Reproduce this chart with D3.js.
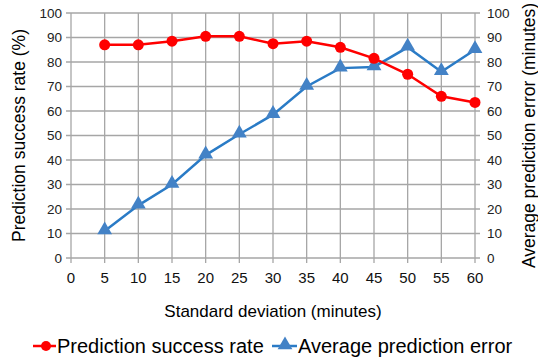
<!DOCTYPE html>
<html>
<head>
<meta charset="utf-8">
<script src="https://cdn.jsdelivr.net/npm/d3@7"></script>
<style>
  body { margin: 0; background: #fff; }
  text { font-family: "Liberation Sans", Arial, sans-serif; }
</style>
</head>
<body>
<div id="chart"></div>
<script>
// Data
const stdDev = [5, 10, 15, 20, 25, 30, 35, 40, 45, 50, 55, 60];
const successRate = [87, 87, 88.5, 90.5, 90.5, 87.5, 88.5, 86, 81.5, 75, 66, 63.5];
const avgError = [11, 21.5, 30, 42, 50.5, 58.5, 70, 77.5, 78, 86, 76, 85];
const xTicks = [0, 5, 10, 15, 20, 25, 30, 35, 40, 45, 50, 55, 60];
const yTicks = [0, 10, 20, 30, 40, 50, 60, 70, 80, 90, 100];

const width = 538, height = 360;
const margin = { top: 13, right: 63, bottom: 102, left: 71 };

const svg = d3.select("#chart").append("svg")
    .attr("width", width)
    .attr("height", height);

const x = d3.scaleLinear().domain([0, 60]).range([margin.left, width - margin.right]);
const yL = d3.scaleLinear().domain([0, 100]).range([height - margin.bottom, margin.top]);
const yR = d3.scaleLinear().domain([0, 100]).range([height - margin.bottom, margin.top]);

// Gridlines
svg.append("g").selectAll("line.h")
    .data(yTicks).join("line")
    .attr("x1", x(0) - 5).attr("x2", x(60) + 5)
    .attr("y1", d => yL(d)).attr("y2", d => yL(d))
    .attr("stroke", "#a6a6a6").attr("stroke-width", 1.3);

svg.append("g").selectAll("line.v")
    .data(xTicks).join("line")
    .attr("x1", d => x(d)).attr("x2", d => x(d))
    .attr("y1", yL(100)).attr("y2", yL(0) + 5)
    .attr("stroke", "#a6a6a6").attr("stroke-width", 1.3);

// Tick labels
const tickColor = "#222";
svg.append("g").selectAll("text")
    .data(yTicks).join("text")
    .attr("x", x(0) - 9).attr("y", d => yL(d))
    .attr("dy", "0.35em").attr("text-anchor", "end")
    .style("font-size", "13.5px").attr("fill", tickColor)
    .text(d => d);

svg.append("g").selectAll("text")
    .data(yTicks).join("text")
    .attr("x", x(60) + 12).attr("y", d => yR(d))
    .attr("dy", "0.35em").attr("text-anchor", "start")
    .style("font-size", "13.5px").attr("fill", tickColor)
    .text(d => d);

svg.append("g").selectAll("text")
    .data(xTicks).join("text")
    .attr("x", d => x(d)).attr("y", yL(0) + 25)
    .attr("text-anchor", "middle")
    .style("font-size", "15px").attr("fill", "#111")
    .text(d => d);

// Axis titles
svg.append("text")
    .attr("transform", `translate(25,${(yL(0) + yL(100)) / 2}) rotate(-90)`)
    .attr("text-anchor", "middle")
    .style("font-size", "17.5px").attr("fill", "#000")
    .text("Prediction success rate (%)");

svg.append("text")
    .attr("transform", `translate(535,${(yL(0) + yL(100)) / 2}) rotate(-90)`)
    .attr("text-anchor", "middle")
    .style("font-size", "17.5px").attr("fill", "#000")
    .text("Average prediction error (minutes)");

svg.append("text")
    .attr("x", (x(0) + x(60)) / 2).attr("y", 317)
    .attr("text-anchor", "middle")
    .style("font-size", "17px").attr("fill", "#000")
    .text("Standard deviation (minutes)");

// Series
const red = "#ff0000", blue = "#2a7bc6", blueMark = "#4382c6";
const tri = d3.symbol().type(d3.symbolTriangle).size(95);

const lineL = d3.line().x((d, i) => x(stdDev[i])).y(d => yL(d));
const lineR = d3.line().x((d, i) => x(stdDev[i])).y(d => yR(d));

svg.append("path").datum(avgError)
    .attr("d", lineR).attr("fill", "none")
    .attr("stroke", blue).attr("stroke-width", 2.5);
svg.append("g").selectAll("path")
    .data(avgError).join("path")
    .attr("d", tri)
    .attr("transform", (d, i) => `translate(${x(stdDev[i])},${yR(d) - 1})`)
    .attr("fill", blueMark);

svg.append("path").datum(successRate)
    .attr("d", lineL).attr("fill", "none")
    .attr("stroke", red).attr("stroke-width", 2.5);
svg.append("g").selectAll("circle")
    .data(successRate).join("circle")
    .attr("cx", (d, i) => x(stdDev[i])).attr("cy", d => yL(d))
    .attr("r", 5.5).attr("fill", red);

// Legend
const legY = 353;
const leg1 = svg.append("g");
leg1.append("line").attr("x1", 33).attr("x2", 56).attr("y1", legY - 7).attr("y2", legY - 7)
    .attr("stroke", red).attr("stroke-width", 2.5);
leg1.append("circle").attr("cx", 46).attr("cy", legY - 7).attr("r", 5).attr("fill", red);
leg1.append("text").attr("x", 57).attr("y", legY)
    .style("font-size", "20px").attr("fill", "#000")
    .text("Prediction success rate");

const leg2 = svg.append("g");
leg2.append("line").attr("x1", 272).attr("x2", 297).attr("y1", legY - 7).attr("y2", legY - 7)
    .attr("stroke", blue).attr("stroke-width", 2.5);
leg2.append("path").attr("d", tri).attr("transform", `translate(285,${legY - 8})`).attr("fill", blueMark);
leg2.append("text").attr("x", 298).attr("y", legY)
    .style("font-size", "20px").attr("fill", "#000")
    .text("Average prediction error");
</script>
</body>
</html>
